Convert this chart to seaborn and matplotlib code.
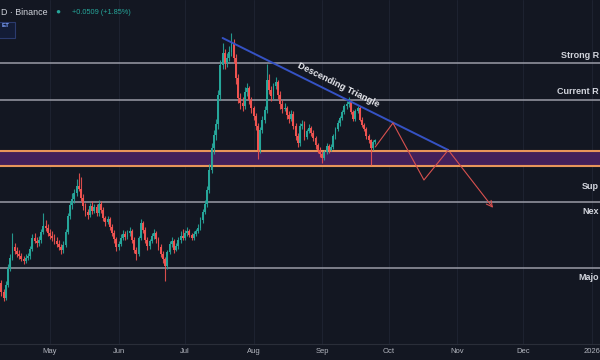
import numpy as np
import pandas as pd
import matplotlib
matplotlib.use("Agg")
import matplotlib.pyplot as plt
import matplotlib.dates as mdates
from matplotlib.patches import Rectangle
import seaborn as sns

# ---------------- data ----------------
candle_start = "2025-04-09"
n_candles = 170
opens = [1.919,1.856,1.814,1.905,2.024,2.094,2.171,2.143,2.122,2.108,
         2.087,2.073,2.094,2.108,2.157,2.234,2.213,2.199,2.220,2.276,
         2.318,2.304,2.269,2.248,2.234,2.213,2.192,2.171,2.150,2.185,
         2.276,2.388,2.465,2.507,2.549,2.598,2.577,2.514,2.458,2.416,
         2.395,2.458,2.423,2.451,2.409,2.472,2.430,2.374,2.346,2.367,
         2.311,2.269,2.227,2.171,2.192,2.234,2.262,2.241,2.269,2.283,
         2.220,2.150,2.122,2.234,2.339,2.290,2.220,2.178,2.213,2.248,
         2.269,2.227,2.171,2.122,2.087,2.038,2.136,2.192,2.213,2.150,
         2.178,2.220,2.248,2.234,2.269,2.283,2.255,2.234,2.262,2.283,
         2.304,2.360,2.416,2.472,2.570,2.710,2.864,2.955,3.032,3.235,
         3.445,3.529,3.459,3.494,3.536,3.599,3.494,3.354,3.214,3.179,
         3.158,3.256,3.284,3.200,3.144,3.088,3.018,2.850,2.990,3.060,
         3.130,3.340,3.270,3.228,3.298,3.326,3.235,3.172,3.137,3.144,
         3.095,3.067,3.102,3.018,2.948,2.899,3.018,3.032,2.941,2.983,
         3.004,2.969,2.934,2.885,2.850,2.822,2.794,2.836,2.878,2.850,
         2.871,2.948,2.997,3.039,3.074,3.116,3.158,3.172,3.186,3.116,
         3.067,3.123,3.144,3.060,3.025,2.997,2.948,2.920,2.864,2.906]
closes = [1.856,1.814,1.905,2.024,2.094,2.171,2.143,2.122,2.108,2.087,
          2.073,2.094,2.108,2.157,2.234,2.213,2.199,2.220,2.276,2.318,
          2.304,2.269,2.248,2.234,2.213,2.192,2.171,2.150,2.185,2.276,
          2.388,2.465,2.507,2.549,2.598,2.577,2.514,2.458,2.416,2.395,
          2.458,2.423,2.451,2.409,2.472,2.430,2.374,2.346,2.367,2.311,
          2.269,2.227,2.171,2.192,2.234,2.262,2.241,2.269,2.283,2.220,
          2.150,2.122,2.234,2.339,2.290,2.220,2.178,2.213,2.248,2.269,
          2.227,2.171,2.122,2.087,2.038,2.136,2.192,2.213,2.150,2.178,
          2.220,2.248,2.234,2.269,2.283,2.255,2.234,2.262,2.283,2.304,
          2.360,2.416,2.472,2.570,2.710,2.864,2.955,3.032,3.235,3.445,
          3.529,3.459,3.494,3.536,3.599,3.494,3.354,3.214,3.179,3.158,
          3.256,3.284,3.200,3.144,3.088,3.018,2.850,2.990,3.060,3.130,
          3.340,3.270,3.228,3.298,3.326,3.235,3.172,3.137,3.144,3.095,
          3.067,3.102,3.018,2.948,2.899,3.018,3.032,2.941,2.983,3.004,
          2.969,2.934,2.885,2.850,2.822,2.794,2.836,2.878,2.850,2.871,
          2.948,2.997,3.039,3.074,3.116,3.158,3.172,3.186,3.116,3.067,
          3.123,3.144,3.060,3.025,2.997,2.948,2.920,2.864,2.906,2.920]
highs = [1.94,1.88,1.93,2.05,2.12,2.27,2.20,2.17,2.15,2.13,
         2.11,2.12,2.13,2.18,2.26,2.27,2.24,2.25,2.30,2.41,
         2.36,2.33,2.30,2.28,2.26,2.24,2.22,2.19,2.21,2.30,
         2.41,2.49,2.55,2.58,2.65,2.69,2.66,2.54,2.48,2.44,
         2.48,2.49,2.47,2.47,2.50,2.49,2.45,2.39,2.39,2.38,
         2.33,2.29,2.24,2.21,2.26,2.29,2.28,2.29,2.31,2.30,
         2.24,2.17,2.25,2.37,2.35,2.31,2.24,2.23,2.27,2.30,
         2.28,2.24,2.19,2.14,2.10,2.15,2.21,2.24,2.23,2.20,
         2.24,2.28,2.30,2.29,2.31,2.30,2.27,2.28,2.30,2.33,
         2.38,2.44,2.50,2.60,2.75,2.90,2.99,3.07,3.27,3.48,
         3.60,3.56,3.53,3.58,3.67,3.63,3.52,3.38,3.25,3.22,
         3.29,3.32,3.30,3.22,3.16,3.11,3.04,3.01,3.09,3.16,
         3.45,3.38,3.30,3.32,3.36,3.34,3.26,3.20,3.18,3.16,
         3.12,3.13,3.12,3.04,2.97,3.04,3.06,3.05,3.00,3.03,
         3.02,2.99,2.95,2.90,2.87,2.84,2.85,2.90,2.89,2.89,
         2.96,3.01,3.06,3.09,3.13,3.17,3.19,3.22,3.20,3.13,
         3.14,3.16,3.16,3.08,3.04,3.01,2.96,2.93,2.92,2.93]
lows = [1.83,1.79,1.80,1.89,2.00,2.08,2.12,2.10,2.09,2.07,
        2.05,2.06,2.08,2.09,2.14,2.20,2.17,2.18,2.20,2.26,
        2.28,2.25,2.23,2.21,2.19,2.17,2.15,2.12,2.13,2.17,
        2.26,2.37,2.44,2.48,2.53,2.56,2.49,2.43,2.39,2.37,
        2.38,2.40,2.41,2.39,2.39,2.41,2.35,2.32,2.33,2.29,
        2.25,2.20,2.14,2.15,2.18,2.22,2.22,2.23,2.25,2.20,
        2.13,2.08,2.11,2.22,2.27,2.20,2.15,2.16,2.20,2.23,
        2.20,2.15,2.10,2.06,1.93,2.02,2.12,2.17,2.13,2.14,
        2.16,2.20,2.22,2.22,2.25,2.24,2.22,2.22,2.25,2.27,
        2.29,2.34,2.40,2.45,2.55,2.69,2.82,2.92,3.00,3.20,
        3.42,3.42,3.43,3.47,3.51,3.46,3.31,3.18,3.14,3.12,
        3.14,3.23,3.17,3.11,3.06,2.99,2.79,2.83,2.97,3.04,
        3.11,3.24,3.19,3.21,3.28,3.21,3.14,3.11,3.12,3.07,
        3.04,3.05,3.00,2.92,2.87,2.88,3.00,2.92,2.93,2.97,
        2.95,2.91,2.86,2.83,2.80,2.76,2.78,2.82,2.83,2.84,
        2.86,2.93,2.98,3.02,3.06,3.10,3.14,3.15,3.10,3.05,
        3.05,3.11,3.05,3.01,2.98,2.93,2.90,2.745,2.85,2.89]

level_values = [3.459, 3.200, 2.486, 2.024]       # Strong R, Current R, Support, Major
zone_top, zone_bottom = 2.840, 2.735
triangle_dates = ["2025-07-18", "2025-10-28"]
triangle_prices = [3.634, 2.850]
path_dates = ["2025-09-25", "2025-10-03", "2025-10-17", "2025-10-28", "2025-11-18"]
path_prices = [2.871, 3.039, 2.640, 2.850, 2.430]
month_ticks = ["2025-05-01", "2025-06-01", "2025-07-01", "2025-08-01", "2025-09-01",
               "2025-10-01", "2025-11-01", "2025-12-01", "2026-01-01"]
month_labels = ["May", "Jun", "Jul", "Aug", "Sep", "Oct", "Nov", "Dec", "2026"]
x_range = ["2025-04-08 09:00", "2026-01-04 14:00"]
y_range = (1.492, 3.90)

# ---------------- style ----------------
BG = "#131722"
UP, DOWN = "#26a69a", "#ef5350"
sns.set_theme(style="dark", rc={"axes.facecolor": BG, "figure.facecolor": BG})
plt.rcParams["font.family"] = ["Liberation Sans", "DejaVu Sans"]

fig = plt.figure(figsize=(6, 3.6), dpi=100)
ax = fig.add_axes([0, 16 / 360, 1, 344 / 360])
ax.set_facecolor(BG)

dates = pd.date_range(candle_start, periods=n_candles, freq="D")
xd = mdates.date2num(dates)
o = np.array(opens); c = np.array(closes); h = np.array(highs); l = np.array(lows)
cols = np.where(c >= o, UP, DOWN)

# month grid
mt = mdates.date2num(pd.to_datetime(month_ticks))
for m in mt:
    ax.axvline(m, color="#1d2230", lw=0.8, zorder=0)

# zone and levels
ax.axhspan(zone_bottom, zone_top, color="#43205a", lw=0, zorder=1)
for yv in (zone_top, zone_bottom):
    ax.axhline(yv, color="#e8955a", lw=1.5, zorder=2)
for yv in level_values:
    ax.axhline(yv, color="#9a9ca6", lw=1.1, zorder=2)

# candles
ax.vlines(xd, l, h, colors=cols, lw=0.8, alpha=0.9, zorder=3)
ax.bar(xd, np.maximum(np.abs(c - o), 0.004), bottom=np.minimum(o, c), width=0.85,
       color=cols, lw=0, zorder=4)

# triangle line and projection
tx = mdates.date2num(pd.to_datetime(triangle_dates))
sns.lineplot(x=tx, y=triangle_prices, ax=ax, color="#3552c4", lw=1.4, zorder=5)
px = mdates.date2num(pd.to_datetime(path_dates))
sns.lineplot(x=px[:-1], y=path_prices[:-1], ax=ax, color="#d8514f", lw=0.8, zorder=5)
ax.annotate("", xy=(px[-1], path_prices[-1]), xytext=(px[-2], path_prices[-2]),
            arrowprops=dict(arrowstyle="->,head_length=0.35,head_width=0.18",
                            color="#d8514f", lw=0.8), zorder=5)

ax.set_xlim(mdates.date2num(pd.to_datetime(x_range)))
ax.set_ylim(*y_range)
ax.set_xticks(mt)
ax.set_xticklabels(month_labels)
ax.tick_params(axis="x", length=0, pad=3, labelsize=5.5, labelcolor="#b2b5be")
ax.set_yticks([])
for s in ("top", "left", "right"):
    ax.spines[s].set_visible(False)
ax.spines["bottom"].set_color("#2a2e39")
ax.spines["bottom"].set_linewidth(0.8)
ax.grid(False)

# ---------------- texts ----------------
def ftxt(x, y, s, **kw):
    fig.text(x / 600, 1 - y / 360, s, **kw)

lab = dict(color="#d1d4dc", fontsize=6.5, fontweight="bold", va="center", ha="right")
ftxt(599, 55, "Strong R", **lab)
ftxt(599, 92, "Current R", **lab)
ftxt(599, 186, "Sup", **lab)
ftxt(599, 212, "Nex", **lab)
ftxt(599, 277, "Majo", **lab)

ftxt(338, 85, "Descending Triangle", color="#e8e9ee", fontsize=6.6, fontweight="bold",
     rotation=-26.4, rotation_mode="anchor", ha="center", va="center")

ftxt(1, 12.5, "D · Binance", color="#d1d4dc", fontsize=6.4, va="center", ha="left")
ftxt(58, 12.5, "●", color="#26a69a", fontsize=6, va="center", ha="center")
ftxt(72, 12.5, "+0.0509 (+1.85%)", color="#26a69a", fontsize=5.3, va="center", ha="left")
fig.add_artist(Rectangle((-2 / 600, 1 - 38 / 360), 17 / 600, 16 / 360,
                         transform=fig.transFigure, facecolor="#131c36",
                         edgecolor="#2b3b6e", lw=0.8))
ftxt(2, 25.5, "ET", color="#7ea2ff", fontsize=4.5, fontweight="bold", va="center", ha="left")

fig.savefig("out.png", dpi=100, facecolor=BG)
